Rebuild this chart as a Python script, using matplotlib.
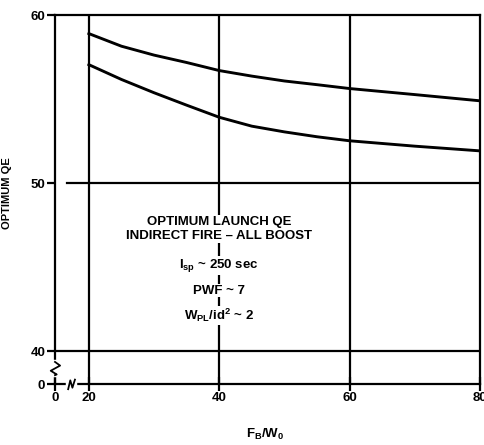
import matplotlib
matplotlib.use("Agg")
import matplotlib.pyplot as plt
import numpy as np

plt.rcParams["font.family"] = ["Liberation Sans", "DejaVu Sans"]
plt.rcParams["font.weight"] = "bold"
plt.rcParams["axes.labelweight"] = "bold"
plt.rcParams["mathtext.default"] = "regular"

# values
fb_w0 = [20, 25, 30, 35, 40, 45, 50, 55, 60, 70, 80]
qe_upper = [58.9, 58.15, 57.62, 57.18, 56.7, 56.37, 56.08, 55.86, 55.63, 55.27, 54.9]
qe_lower = [57.05, 56.17, 55.38, 54.64, 53.92, 53.39, 53.05, 52.76, 52.52, 52.2, 51.92]

x_ticks = [0, 20, 40, 60, 80]
y_ticks = [0, 40, 50, 60]
notes = [
    (47.7, "OPTIMUM LAUNCH QE"),
    (46.85, "INDIRECT FIRE \u2013 ALL BOOST"),
    (45.1, r"I$_{sp}$ ~ 250 sec"),
    (43.6, "PWF ~ 7"),
    (42.1, r"W$_{PL}$/id$^{2}$ ~ 2"),
]

# broken axes: compress 0-20 on x and 0-40 on y
X_GAP = 5.2
Y_GAP = 1.96


def _fwd_x(x):
    x = np.asarray(x, dtype=float)
    return np.where(x >= 20, x - 20 + X_GAP, x * X_GAP / 20)


def _inv_x(u):
    u = np.asarray(u, dtype=float)
    return np.where(u >= X_GAP, u + 20 - X_GAP, u * 20 / X_GAP)


def _fwd_y(y):
    y = np.asarray(y, dtype=float)
    return np.where(y >= 40, y - 40 + Y_GAP, y * Y_GAP / 40)


def _inv_y(u):
    u = np.asarray(u, dtype=float)
    return np.where(u >= Y_GAP, u + 40 - Y_GAP, u * 40 / Y_GAP)


LW = 1.6

fig = plt.figure(figsize=(4.84, 4.45), dpi=100)
ax = fig.add_axes([0.1136, 0.137, 0.878, 0.829])
ax.set_xscale("function", functions=(_fwd_x, _inv_x))
ax.set_yscale("function", functions=(_fwd_y, _inv_y))
ax.set_xlim(0, 80)
ax.set_ylim(0, 60)

for sp in ax.spines.values():
    sp.set_linewidth(LW)

# grid
for xv in (20, 40, 60):
    ax.axvline(xv, color="black", lw=LW, zorder=1)
ax.axhline(40, color="black", lw=LW, zorder=1)
ax.axhline(50, xmin=0.028, color="black", lw=LW, zorder=1)

ax.plot(fb_w0, qe_upper, color="black", lw=LW * 1.3, zorder=3)
ax.plot(fb_w0, qe_lower, color="black", lw=LW * 1.3, zorder=3)

for yv, txt in notes:
    ax.text(40, yv, txt, ha="center", va="center", fontsize=9.5, zorder=4,
            bbox=dict(facecolor="white", edgecolor="none", pad=0.6))

# axis break marks
ax.plot([0, 0], [0.024, 0.06], transform=ax.transAxes, color="white",
        lw=LW * 2, clip_on=False, zorder=5)
ax.plot([0, 0.012, -0.01, 0.004, 0], [0.06, 0.05, 0.036, 0.026, 0.024],
        transform=ax.transAxes, color="black", lw=LW * 0.8, clip_on=False, zorder=6)
ax.plot([0.031, 0.047], [0, 0], transform=ax.transAxes, color="white",
        lw=LW * 2, clip_on=False, zorder=5)
ax.plot([0.031, 0.036, 0.041, 0.047], [-0.014, 0.01, -0.01, 0.012],
        transform=ax.transAxes, color="black", lw=LW * 0.8, clip_on=False, zorder=6)

ax.set_xticks(x_ticks)
ax.set_yticks(y_ticks)
ax.set_xticklabels([str(v) for v in x_ticks])
ax.set_yticklabels([str(v) for v in y_ticks])
ax.minorticks_off()
ax.tick_params(axis="y", direction="out", length=6, width=LW, labelsize=9.5, pad=1)
ax.tick_params(axis="x", direction="inout", length=10, width=LW, labelsize=9.5, pad=1)

ax.set_ylabel("OPTIMUM QE", fontsize=8)
ax.yaxis.set_label_coords(-0.101, 0.518)
ax.set_xlabel(r"F$_B$/W$_0$", fontsize=9.5)
ax.xaxis.set_label_coords(0.494, -0.115)

fig.savefig("out.png", dpi=100)
